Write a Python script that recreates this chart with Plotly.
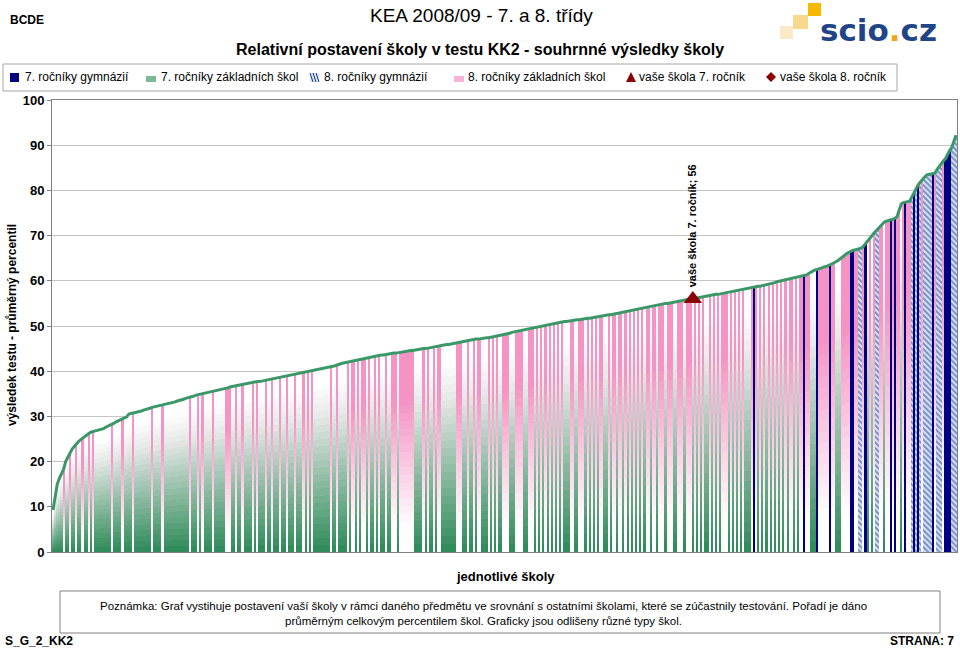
import plotly.graph_objects as go

# ---------------- data ----------------
percentil = [
    9.3, 12.5, 15.0, 16.3, 17.5, 18.3, 20.0, 21.0, 21.8, 22.7,
    23.3, 23.9, 24.4, 24.8, 25.2, 25.6, 25.9, 26.2, 26.5, 26.7,
    26.8, 26.9, 27.0, 27.1, 27.3, 27.6, 27.8, 28.0, 28.3, 28.5,
    28.8, 29.0, 29.3, 29.5, 29.7, 29.9, 30.5, 30.6, 30.7, 30.8,
    30.9, 31.0, 31.2, 31.4, 31.5, 31.7, 31.8, 32.0, 32.1, 32.3,
    32.4, 32.5, 32.6, 32.7, 32.8, 32.9, 33.0, 33.1, 33.2, 33.4,
    33.5,
    33.7, 33.8, 34.0, 34.1, 34.3, 34.4, 34.5, 34.7, 34.8, 34.9,
    35.1, 35.2, 35.3, 35.4, 35.5, 35.6, 35.7, 35.8, 35.9, 36.0,
    36.1, 36.2, 36.3, 36.5, 36.6, 36.7, 36.8, 36.9, 37.0, 37.0,
    37.1, 37.2, 37.3, 37.4, 37.5, 37.6, 37.7, 37.7, 37.8, 37.9,
    38.0, 38.1, 38.2, 38.3, 38.4, 38.5, 38.6, 38.7, 38.8, 38.9,
    39.0, 39.1, 39.2, 39.3, 39.4, 39.5, 39.6, 39.7, 39.8, 39.9,
    40.0, 40.1, 40.2, 40.2, 40.3, 40.4, 40.5, 40.6, 40.7, 40.8,
    40.9, 41.0, 41.1, 41.2, 41.4, 41.5, 41.7, 41.8, 41.9, 42.0,
    42.1, 42.3, 42.4, 42.5, 42.6, 42.7, 42.8, 42.9, 43.0, 43.1,
    43.2, 43.3, 43.3, 43.4, 43.5, 43.6, 43.6, 43.7, 43.8, 43.8,
    43.9, 44.0, 44.0, 44.1, 44.2, 44.3, 44.3, 44.4, 44.5, 44.6,
    44.6, 44.7, 44.8, 44.8, 44.9, 45.0, 45.0, 45.1, 45.2, 45.2,
    45.3, 45.4, 45.5, 45.6, 45.7, 45.8, 45.9, 45.9, 46.0, 46.1,
    46.2, 46.3, 46.4, 46.5, 46.6, 46.7, 46.8, 46.9, 47.0, 47.0,
    47.1, 47.1, 47.2, 47.2, 47.3, 47.4, 47.4, 47.5, 47.5, 47.6,
    47.7, 47.8, 47.9, 48.0, 48.2, 48.3, 48.4, 48.6, 48.7, 48.8,
    48.9, 49.0, 49.1, 49.2, 49.3, 49.4, 49.5, 49.6, 49.7, 49.8,
    49.9, 50.0, 50.1, 50.2, 50.3, 50.4, 50.5, 50.6, 50.7, 50.7,
    50.8, 50.9, 51.0, 51.0, 51.1, 51.2, 51.2, 51.3, 51.4, 51.4,
    51.5, 51.5, 51.6, 51.7, 51.7, 51.8, 51.9, 52.0, 52.1, 52.2,
    52.2, 52.3, 52.4, 52.5, 52.5, 52.6, 52.7, 52.8, 52.9, 53.0,
    53.1, 53.2, 53.3, 53.4, 53.5, 53.5, 53.6, 53.7, 53.8, 53.9,
    54.0, 54.1, 54.2, 54.3, 54.4, 54.5, 54.6, 54.7, 54.8, 54.9,
    55.0, 55.0, 55.1, 55.1, 55.2, 55.3, 55.4, 55.5, 55.6, 55.7,
    55.8, 55.9, 55.9, 56.0, 56.1, 56.2, 56.3, 56.4, 56.5, 56.6,
    56.6, 56.7, 56.8, 56.9, 57.0, 57.0, 57.1, 57.2, 57.3, 57.4,
    57.4, 57.5, 57.6, 57.7, 57.8, 57.9, 58.0, 58.1, 58.2, 58.3,
    58.4, 58.5, 58.6, 58.7, 58.8, 58.8, 58.9, 59.0, 59.1, 59.2,
    59.3, 59.5, 59.6, 59.8, 59.9, 60.0, 60.1, 60.2, 60.3, 60.4,
    60.5, 60.6, 60.7, 60.8, 60.9, 61.0, 61.1, 61.3, 61.6, 61.9,
    62.2, 62.4, 62.5, 62.6, 62.8, 63.0, 63.1, 63.3, 63.5, 63.7,
    64.0, 64.2, 64.5, 64.8, 65.2, 65.6, 66.0, 66.3, 66.5, 66.7,
    66.8, 66.9, 67.0, 67.2, 67.6, 68.2, 68.9, 69.5, 70.0, 70.5,
    71.0, 71.5, 72.0, 72.5, 73.0, 73.2, 73.4, 73.5, 73.6, 73.8,
    74.2, 75.5, 77.0, 77.3, 77.4, 77.5, 77.6, 78.5, 79.5, 80.5,
    81.2, 81.8, 82.4, 83.0, 83.4, 83.5, 83.6, 83.7, 83.8, 84.6,
    85.3, 86.0, 86.5, 87.0, 88.0, 88.8, 89.5, 90.8, 92.2,
]

# school type by rank (rank = position in the sorted order)
# below rank 215 the default type is 7th-grade elementary school
zs8_ranks_low = [5, 8, 11, 14, 17, 19, 28, 33, 38, 47, 52, 65, 69, 71, 76, 82, 83, 84,
                 87, 90, 95, 97, 101, 104, 108, 111, 115,
                 119, 121, 123, 132, 135, 140, 142, 143, 145, 147, 148, 150, 153, 155,
                 158, 161, 162, 163, 165, 166, 167, 168, 169, 170, 171, 176, 178, 181,
                 183, 184, 192, 193, 194, 197, 200, 202, 203, 207, 209, 211, 214]
# from rank 215 on the default type is 8th-grade elementary school
zs_split_rank = 215
zs7_ranks_high = [217, 218, 219, 224, 225, 229, 231, 233, 235, 237, 239, 241, 243, 244,
                  245, 248, 249, 253, 255, 257, 259, 262, 263, 265, 268, 271, 273, 275,
                  277, 279, 281, 284, 287, 291, 295, 296, 300, 304, 306, 308, 310, 311,
                  313, 315, 317, 321, 323, 325, 327, 329, 330, 331, 335, 337, 339, 341,
                  343, 345, 347, 349, 352, 354, 360, 361, 362, 372, 373, 374, 387, 389,
                  395, 403]
gym7_ranks = [333, 357, 363, 369, 379, 380, 386, 398, 400, 405, 409, 411, 418, 424, 425, 426]
gym8_ranks = [383, 384, 391, 392, 408, 410, 412, 414, 415, 416, 417, 420, 421, 422, 427, 428, 429]

school7_rank = 304
school7_value = 56
school7_label = "vaše škola 7. ročník; 56"

legend_labels = ["7. ročníky gymnázií", "7. ročníky základních škol", "8. ročníky gymnázií",
                 "8. ročníky základních škol", "vaše škola 7. ročník", "vaše škola 8. ročník"]
y_ticks = [0, 10, 20, 30, 40, 50, 60, 70, 80, 90, 100]

# ---------------- build ----------------
N = len(percentil)
ranks = list(range(N))
typ = ["zs7" if i < zs_split_rank else "zs8" for i in ranks]
for r in zs8_ranks_low:
    typ[r] = "zs8"
for r in zs7_ranks_high:
    typ[r] = "zs7"
for r in gym7_ranks:
    typ[r] = "gym7"
for r in gym8_ranks:
    typ[r] = "gym8"

GREEN = (44, 138, 88)
GREY = (226, 230, 228)
PINK = (245, 148, 196)
WHITE = (255, 255, 255)
NAVY = "#000080"


def mix(c1, c2, f):
    f = max(0.0, min(1.0, f))
    return "rgb(%d,%d,%d)" % tuple(round(a + (b - a) * f) for a, b in zip(c1, c2))


def green_at(t):
    if t < 0.72:
        return mix(GREEN, GREY, t / 0.72)
    return mix(GREY, WHITE, (t - 0.72) / 0.2)


def pink_at(t):
    return mix(WHITE, PINK, (t - 0.12) / 0.62)


fig = go.Figure()

K = 26
for kind, colfun in (("zs7", green_at), ("zs8", pink_at)):
    for k in range(K):
        t = (k + 0.5) / K
        ext = 1.0 if k == K - 1 else 1.08
        ys = [percentil[i] / K * ext if typ[i] == kind else None for i in ranks]
        bs = [percentil[i] * k / K if typ[i] == kind else None for i in ranks]
        fig.add_trace(go.Bar(x=ranks, y=ys, base=bs, width=1.0,
                             marker=dict(color=colfun(t), line=dict(width=0)),
                             hoverinfo="skip", showlegend=False))

fig.add_trace(go.Bar(x=gym7_ranks, y=[percentil[r] for r in gym7_ranks], width=1.0,
                     marker=dict(color=NAVY, line=dict(width=0)), showlegend=False))
fig.add_trace(go.Bar(x=gym8_ranks, y=[percentil[r] for r in gym8_ranks], width=1.0,
                     marker=dict(color="#dbe8f6", line=dict(width=0),
                                 pattern=dict(shape="\\", fgcolor="#1f3590", bgcolor="#d6e6f6",
                                              size=4, solidity=0.5)),
                     showlegend=False))

fig.add_trace(go.Scatter(x=ranks, y=percentil, mode="lines",
                         line=dict(color="#3a9868", width=3), showlegend=False))
fig.add_trace(go.Scatter(x=[school7_rank], y=[school7_value], mode="markers",
                         marker=dict(symbol="triangle-up", size=16, color="#8b0000"),
                         showlegend=False))

FONT = "Liberation Sans, Arial, sans-serif"
L, R, T, B = 52, 957, 100, 552


def pxp(x):
    return (x - L) / (R - L)


def pyp(y):
    return (B - y) / (B - T)


ann = []


def text(x, y, s, size, bold=False, xa="center", ya="middle", color="black", angle=0):
    ann.append(dict(x=pxp(x), y=pyp(y), xref="paper", yref="paper", text=s, showarrow=False,
                    xanchor=xa, yanchor=ya, textangle=angle,
                    font=dict(family=FONT, size=size, color=color,
                              weight="bold" if bold else "normal")))


text(8, 20, "BCDE", 12, True, xa="left")
text(481, 16, "KEA 2008/09 - 7. a 8. třídy", 19)
text(480, 50, "Relativní postavení školy v testu KK2 - souhrnné výsledky školy", 16, True)
text(12, 325, "výsledek testu - průměrný percentil", 12, True, angle=-90)
text(505, 576, "jednotlivé školy", 13, True)
text(483, 613, "Poznámka: Graf vystihuje postavení vaší školy v rámci daného předmětu ve srovnání "
     "s ostatními školami, které se zúčastnily testování. Pořadí je dáno<br>průměrným celkovým "
     "percentilem škol. Graficky jsou odlišeny různé typy škol.", 11.5)
text(3, 641, "S_G_2_KK2", 12, True, xa="left")
text(956, 641, "STRANA: 7", 12, True, xa="right")

# label of your school
ann.append(dict(x=school7_rank, y=school7_value, xref="x", yref="y", text=school7_label,
                showarrow=False, textangle=-90, xanchor="center", yanchor="bottom", yshift=10,
                font=dict(family=FONT, size=11, color="black", weight="bold")))

# legend texts
leg_text_x = [23, 159, 322, 466, 637, 778]
for lx, lab in zip(leg_text_x, legend_labels):
    text(lx, 77, lab, 12, xa="left")

# logo
ann.append(dict(x=pxp(878), y=pyp(30), xref="paper", yref="paper",
                text="scio<span style='color:#f2a516'>.</span>cz", showarrow=False,
                xanchor="center", yanchor="middle",
                font=dict(family="DejaVu Sans, sans-serif", size=31, color="#1f4488",
                          weight="bold")))

shapes = []


def rect(x0, y0, x1, y1, fill, line=None, lw=1):
    shapes.append(dict(type="rect", xref="paper", yref="paper",
                       x0=pxp(x0), x1=pxp(x1), y0=pyp(y1), y1=pyp(y0),
                       fillcolor=fill, line=dict(color=line or fill, width=lw if line else 0),
                       layer="above"))


# legend frame and icons
rect(3, 64, 897, 91, "rgba(0,0,0,0)", "#a6a6a6", 1)
rect(10, 73, 19, 82, NAVY)
rect(146, 76, 156, 82, "#7fb897")
rect(310, 73, 319, 82, "#d6e6f6")
for d in (0, 3, 6):
    shapes.append(dict(type="line", xref="paper", yref="paper",
                       x0=pxp(310 + d), y0=pyp(73), x1=pxp(313 + d), y1=pyp(82),
                       line=dict(color="#1f3590", width=1), layer="above"))
rect(454, 76, 464, 82, "#f8b4d6")
shapes.append(dict(type="path", xref="paper", yref="paper", layer="above",
                   path="M %f %f L %f %f L %f %f Z" % (pxp(626), pyp(82), pxp(636), pyp(82),
                                                       pxp(631), pyp(72)),
                   fillcolor="#8b0000", line=dict(width=0)))
shapes.append(dict(type="path", xref="paper", yref="paper", layer="above",
                   path="M %f %f L %f %f L %f %f L %f %f Z" % (pxp(766), pyp(77), pxp(771), pyp(72),
                                                               pxp(776), pyp(77), pxp(771), pyp(82)),
                   fillcolor="#8b0000", line=dict(width=0)))
# note frame
rect(60, 591, 940, 633, "rgba(0,0,0,0)", "#808080", 1)
# logo squares
rect(780, 26, 793, 39, "#fbe9c8")
rect(793, 15, 808, 29, "#f7d98e")
rect(808, 3, 821, 16, "#f6b800")

fig.update_layout(
    width=960, height=648,
    margin=dict(l=L, r=960 - R, t=T, b=648 - B),
    plot_bgcolor="white", paper_bgcolor="white",
    barmode="overlay", bargap=0, showlegend=False,
    font=dict(family=FONT, color="black"),
    annotations=ann, shapes=shapes,
    xaxis=dict(range=[-0.5, N - 0.5], showticklabels=False, ticks="", showgrid=False,
               zeroline=False, showline=True, linecolor="#808080", linewidth=1, mirror=True),
    yaxis=dict(range=[0, 100], tickvals=y_ticks, showgrid=True, gridcolor="#c4c4c4",
               zeroline=False, showline=True, linecolor="#808080", linewidth=1, mirror=True,
               ticks="outside", ticklen=4, tickcolor="#808080",
               tickfont=dict(family=FONT, size=13, weight="bold", color="black")),
)

fig.write_html("out.html", config={"displayModeBar": False},
               post_script="document.body.style.margin='0';document.body.style.padding='0';")
